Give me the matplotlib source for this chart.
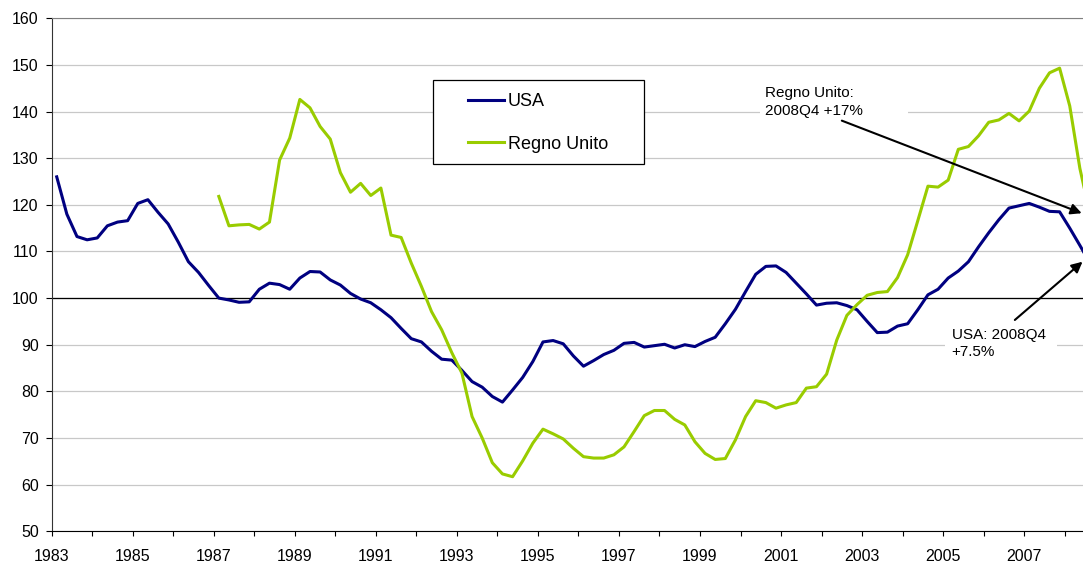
import numpy as np
import matplotlib.pyplot as plt
from matplotlib.patches import Rectangle

plt.rcParams['font.family'] = ['Liberation Sans', 'DejaVu Sans']

# Indici trimestrali, 1983Q1 = primo punto
USA = [
    126.0, 118.0, 113.2, 112.5, 112.9, 115.5, 116.3, 116.6,   # 1983-84
    120.3, 121.1, 118.4, 115.9, 112.0, 107.8, 105.5, 102.7,   # 1985-86
    100.0, 99.6, 99.1, 99.2, 101.9, 103.2, 102.9, 101.9,      # 1987-88
    104.3, 105.7, 105.6, 103.9, 102.8, 101.0, 99.8, 99.0,     # 1989-90
    97.5, 95.8, 93.5, 91.3, 90.6, 88.6, 86.9, 86.7,           # 1991-92
    84.5, 82.1, 80.9, 78.9, 77.7, 80.3, 83.0, 86.4,           # 1993-94
    90.6, 90.9, 90.2, 87.6, 85.4, 86.6, 87.9, 88.8,           # 1995-96
    90.3, 90.5, 89.5, 89.8, 90.1, 89.3, 90.0, 89.6,           # 1997-98
    90.7, 91.6, 94.5, 97.6, 101.4, 105.1, 106.8, 106.9,       # 1999-2000
    105.5, 103.2, 100.9, 98.5, 98.9, 99.0, 98.4, 97.5,        # 2001-02
    95.0, 92.6, 92.7, 94.0, 94.5, 97.5, 100.7, 101.9,         # 2003-04
    104.3, 105.8, 107.8, 111.0, 114.0, 116.8, 119.3, 119.8,   # 2005-06
    120.3, 119.5, 118.6, 118.5, 115.0, 111.3, 107.5,          # 2007-08
]

# Regno Unito: serie disponibile dal 1987Q1
UK_START = 16
REGNO_UNITO = [
    121.8, 115.5, 115.7, 115.8, 114.8, 116.3, 129.6, 134.3,   # 1987-88
    142.6, 140.8, 136.8, 134.1, 126.9, 122.7, 124.6, 122.0,   # 1989-90
    123.6, 113.5, 113.0, 107.5, 102.5, 97.1, 93.2, 88.3,      # 1991-92
    83.9, 74.6, 70.0, 64.7, 62.3, 61.7, 65.1, 68.9,           # 1993-94
    71.9, 70.9, 69.8, 67.8, 66.0, 65.7, 65.7, 66.4,           # 1995-96
    68.1, 71.4, 74.8, 75.9, 75.9, 74.0, 72.8, 69.2,           # 1997-98
    66.7, 65.4, 65.6, 69.6, 74.6, 78.0, 77.6, 76.4,           # 1999-2000
    77.1, 77.6, 80.7, 81.0, 83.7, 91.0, 96.3, 98.6,           # 2001-02
    100.6, 101.2, 101.4, 104.4, 109.3, 116.6, 124.0, 123.8,   # 2003-04
    125.3, 131.9, 132.5, 134.8, 137.7, 138.2, 139.6, 138.0,   # 2005-06
    140.1, 145.0, 148.3, 149.3, 141.2, 127.8, 118.0,          # 2007-08
]

YEAR_TICKS = list(range(1983, 2009))
YEAR_LABELS = [str(y) if y % 2 == 1 else '' for y in YEAR_TICKS]
Y_TICKS = list(range(50, 161, 10))

USA_COLOR = '#000080'
UK_COLOR = '#99CC00'

x_usa = 1983 + (np.arange(len(USA)) + 0.5) / 4
x_uk = 1983 + (np.arange(len(REGNO_UNITO)) + UK_START + 0.5) / 4

fig = plt.figure(figsize=(10.83, 5.64), dpi=100)
ax = fig.add_axes([0.0477, 0.058, 0.9523, 0.9096])

ax.plot(x_usa, USA, color=USA_COLOR, lw=2.2, label='USA', zorder=4)
ax.plot(x_uk, REGNO_UNITO, color=UK_COLOR, lw=2.2, label='Regno Unito', zorder=4)

ax.set_xlim(1983, 2008.452)
ax.set_ylim(50, 160)
ax.set_yticks(Y_TICKS)
ax.set_xticks(YEAR_TICKS)
ax.set_xticklabels(YEAR_LABELS)

ax.yaxis.grid(True, color='#c8c8c8', lw=0.9)
ax.set_axisbelow(True)
ax.axhline(100, color='black', lw=0.9, zorder=2)

ax.spines['right'].set_visible(False)
ax.spines['top'].set_color('#808080')
ax.spines['left'].set_color('#333333')
ax.spines['bottom'].set_color('black')
ax.tick_params(axis='x', direction='out', length=3.6, width=0.8, pad=9.5, labelsize=11.5)
ax.tick_params(axis='y', direction='out', length=4.3, width=0.8, pad=5, labelsize=11.5)

# riquadro legenda
ax.add_patch(Rectangle((0.4001, 0.7092), 0.1948, 0.1489, transform=fig.transFigure,
                       facecolor='white', edgecolor='black', lw=0.9, zorder=3,
                       clip_on=False))
leg = ax.legend(loc='upper left', bbox_to_anchor=(468 / 1083, 1 - 93 / 564),
                bbox_transform=fig.transFigure, frameon=False, fontsize=13,
                handlelength=2.0, handletextpad=0.2, labelspacing=1.42,
                borderpad=0, borderaxespad=0)
leg.set_zorder(6)

# annotazioni
ax.add_patch(Rectangle((2000.48, 137.75), 3.65, 9.05, facecolor='white', edgecolor='none', zorder=3))
ax.text(2000.6, 142.05, 'Regno Unito:\n2008Q4 +17%', fontsize=11, ha='left', va='center',
        linespacing=1.3, zorder=5)
ax.annotate('', xy=(2008.42, 118.2), xytext=(2002.50, 138.05),
            arrowprops=dict(arrowstyle='-|>', color='black', lw=1.5, mutation_scale=16,
                            shrinkA=0, shrinkB=0), zorder=6)

ax.add_patch(Rectangle((2005.05, 85.45), 2.75, 10.3, facecolor='white', edgecolor='none', zorder=3))
ax.text(2005.21, 90.23, 'USA: 2008Q4\n+7.5%', fontsize=11, ha='left', va='center',
        linespacing=1.3, zorder=5)
ax.annotate('', xy=(2008.44, 107.8), xytext=(2006.77, 95.31),
            arrowprops=dict(arrowstyle='-|>', color='black', lw=1.5, mutation_scale=16,
                            shrinkA=0, shrinkB=0), zorder=6)

fig.savefig('out.png', dpi=100)
